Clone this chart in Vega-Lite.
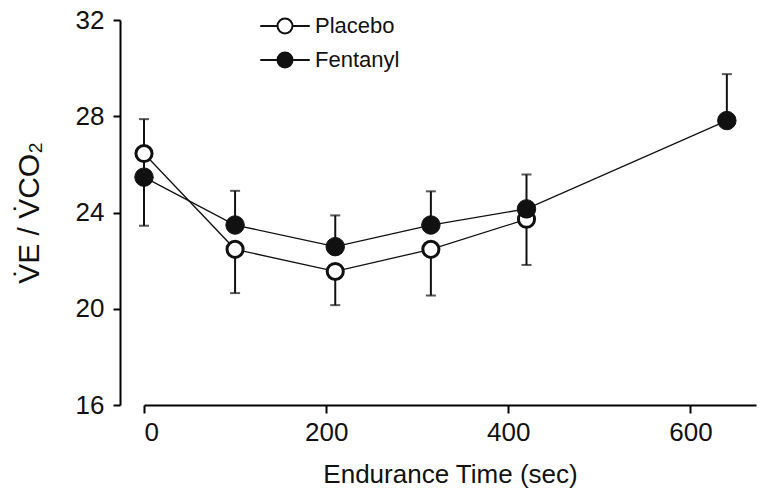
{
  "$schema": "https://vega.github.io/schema/vega-lite/v6.json",
  "autosize": {"type": "none"},
  "width": 612,
  "height": 385,
  "padding": {"left": 144, "top": 20, "right": 6, "bottom": 95},
  "background": "white",
  "view": {"stroke": null},
  "data": {
    "values": [
      {"time": 0, "group": "Placebo", "mean": 26.45, "bound": 23.45},
      {"time": 100, "group": "Placebo", "mean": 22.47, "bound": 20.65},
      {"time": 210, "group": "Placebo", "mean": 21.55, "bound": 20.15},
      {"time": 315, "group": "Placebo", "mean": 22.47, "bound": 20.55},
      {"time": 420, "group": "Placebo", "mean": 23.72, "bound": 21.82},
      {"time": 0, "group": "Fentanyl", "mean": 25.47, "bound": 27.88},
      {"time": 100, "group": "Fentanyl", "mean": 23.48, "bound": 24.9},
      {"time": 210, "group": "Fentanyl", "mean": 22.58, "bound": 23.88},
      {"time": 315, "group": "Fentanyl", "mean": 23.48, "bound": 24.88},
      {"time": 420, "group": "Fentanyl", "mean": 24.15, "bound": 25.58},
      {"time": 640, "group": "Fentanyl", "mean": 27.82, "bound": 29.75}
    ]
  },
  "encoding": {
    "x": {
      "field": "time",
      "type": "quantitative",
      "scale": {"domain": [0, 672], "nice": false, "zero": false},
      "axis": {
        "title": "Endurance Time (sec)",
        "values": [0, 200, 400, 600],
        "grid": false,
        "domainColor": "black",
        "domainWidth": 2,
        "tickColor": "black",
        "tickWidth": 2,
        "tickSize": 8,
        "labelFont": "Liberation Sans",
        "labelFontSize": 26,
        "labelColor": "#111",
        "labelPadding": 6,
        "titleFont": "Liberation Sans",
        "titleFontSize": 26,
        "titleFontWeight": "normal",
        "titleColor": "#111",
        "titlePadding": 16
      }
    },
    "y": {
      "field": "mean",
      "type": "quantitative",
      "scale": {"domain": [16, 32], "nice": false, "zero": false},
      "axis": {
        "title": "V̇E / V̇CO₂",
        "values": [16, 20, 24, 28, 32],
        "grid": false,
        "offset": 24,
        "domainColor": "black",
        "domainWidth": 2,
        "tickColor": "black",
        "tickWidth": 2,
        "tickSize": 7,
        "labelFont": "Liberation Sans",
        "labelFontSize": 26,
        "labelColor": "#111",
        "labelPadding": 9,
        "titleFont": "Liberation Sans",
        "titleFontSize": 30,
        "titleFontWeight": "normal",
        "titleColor": "#111",
        "titlePadding": 31
      }
    }
  },
  "layer": [
    {
      "mark": {"type": "line", "color": "#111", "strokeWidth": 1.3},
      "encoding": {"detail": {"field": "group"}}
    },
    {
      "mark": {"type": "rule", "color": "#111", "strokeWidth": 2},
      "encoding": {"y2": {"field": "bound"}}
    },
    {
      "mark": {"type": "tick", "orient": "horizontal", "color": "#111", "size": 10, "thickness": 2},
      "encoding": {"y": {"field": "bound", "type": "quantitative"}}
    },
    {
      "mark": {"type": "point", "shape": "circle", "filled": true, "stroke": "#111", "opacity": 1},
      "encoding": {
        "fill": {
          "field": "group",
          "type": "nominal",
          "scale": {"domain": ["Placebo", "Fentanyl"], "range": ["white", "#111"]},
          "legend": {
            "title": null,
            "orient": "none",
            "legendX": 130,
            "legendY": -5,
            "padding": 0,
            "symbolType": "M-3.3,0L-1,0M1,0L3.3,0M-1,0A1,1 0 1,0 1,0A1,1 0 1,0 -1,0Z",
            "symbolSize": 225,
            "symbolStrokeColor": "#111",
            "symbolStrokeWidth": 2,
            "labelOffset": 19,
            "labelFont": "Liberation Sans",
            "labelFontSize": 22,
            "labelColor": "#111",
            "rowPadding": 10
          }
        },
        "size": {"condition": {"test": "datum.group === 'Placebo'", "value": 260}, "value": 340},
        "strokeWidth": {"condition": {"test": "datum.group === 'Placebo'", "value": 3}, "value": 1}
      }
    }
  ]
}
